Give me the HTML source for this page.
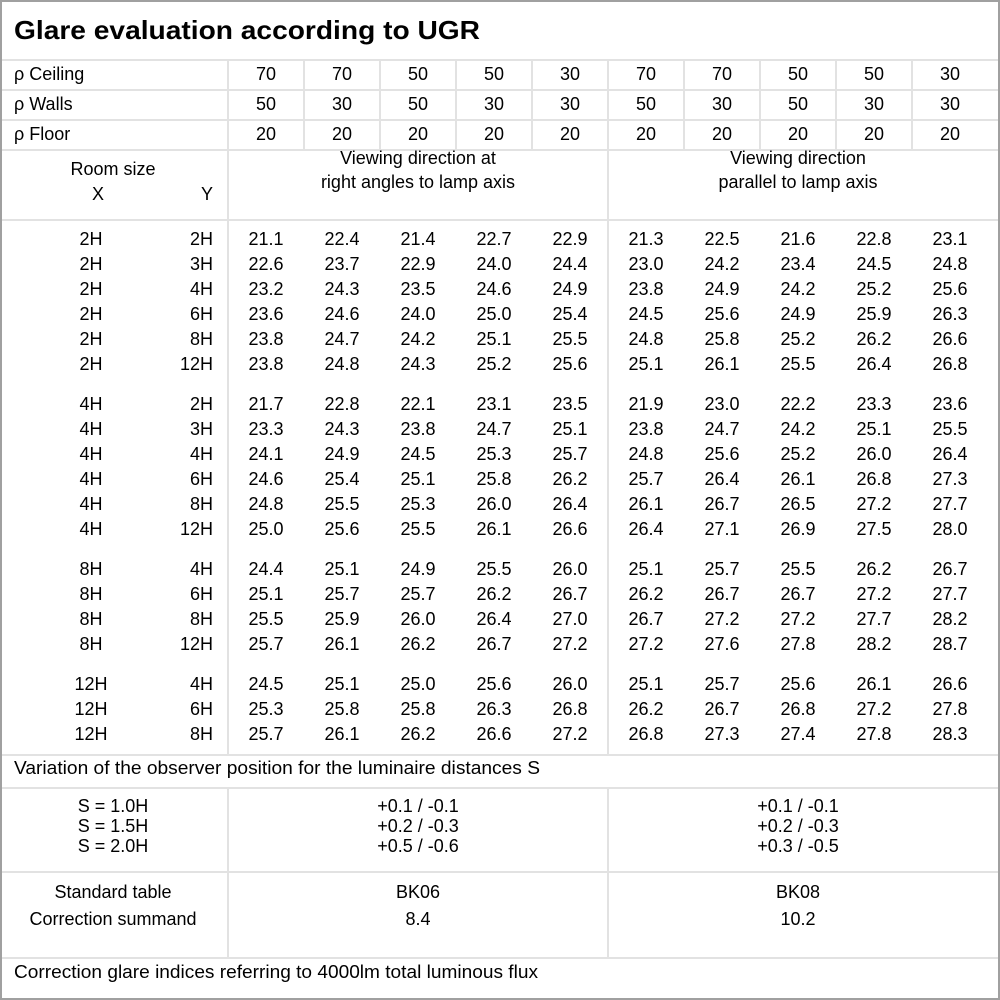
<!DOCTYPE html>
<html><head><meta charset="utf-8"><style>
html,body{margin:0;padding:0;background:#fff;}
svg{display:block;}
text{font-family:"Liberation Sans",sans-serif;font-size:18px;fill:#000;}
</style></head><body>
<svg id="s" width="1000" height="1000" xmlns="http://www.w3.org/2000/svg">
<rect x="0" y="0" width="1000" height="1000" fill="#fff"/>
</svg>
<script>
var s=document.getElementById('s'),NS='http://www.w3.org/2000/svg';
function L(x1,y1,x2,y2,c,w){var e=document.createElementNS(NS,'line');e.setAttribute('x1',x1);e.setAttribute('y1',y1);e.setAttribute('x2',x2);e.setAttribute('y2',y2);e.setAttribute('stroke',c||'#e2e2e2');e.setAttribute('stroke-width',w||2);s.appendChild(e);}
function T(x,y,t,a,extra){var e=document.createElementNS(NS,'text');e.setAttribute('x',x);e.setAttribute('y',y+6);e.setAttribute('text-anchor',a||'middle');if(extra)for(var k in extra)e.setAttribute(k,extra[k]);e.textContent=t;s.appendChild(e);return e;}
[60,90,120,150,220,755,788,872,958].forEach(function(y){L(0,y,1000,y);});
L(228,60,228,755);L(228,788,228,958);
L(608,150,608,755);L(608,788,608,958);
for(var i=1;i<10;i++){L(228+76*i,60,228+76*i,150);}
var b=document.createElementNS(NS,'rect');b.setAttribute('x',1);b.setAttribute('y',1);b.setAttribute('width',998);b.setAttribute('height',998);b.setAttribute('fill','none');b.setAttribute('stroke','#a0a0a0');b.setAttribute('stroke-width',2);s.appendChild(b);
var t=T(14,30,'Glare evaluation according to UGR','start',{'font-weight':'bold','style':'font-size:26px','textLength':'466','lengthAdjust':'spacingAndGlyphs'});
t.setAttribute('y',39);
var cx=[];for(var i=0;i<10;i++)cx.push(266+76*i);
var hdr=[['ρ Ceiling',[70,70,50,50,30,70,70,50,50,30]],['ρ Walls',[50,30,50,30,30,50,30,50,30,30]],['ρ Floor',[20,20,20,20,20,20,20,20,20,20]]];
hdr.forEach(function(h,r){var y=74+30*r;T(14,y,h[0],'start');h[1].forEach(function(v,i){T(cx[i],y,v);});});
T(113,169,'Room size');T(98,194,'X');T(207,194,'Y');
T(418,158,'Viewing direction at');T(418,182,'right angles to lamp axis');
T(798,158,'Viewing direction');T(798,182,'parallel to lamp axis');
var rows=[
['2H','2H','21.1 22.4 21.4 22.7 22.9 21.3 22.5 21.6 22.8 23.1'],
['2H','3H','22.6 23.7 22.9 24.0 24.4 23.0 24.2 23.4 24.5 24.8'],
['2H','4H','23.2 24.3 23.5 24.6 24.9 23.8 24.9 24.2 25.2 25.6'],
['2H','6H','23.6 24.6 24.0 25.0 25.4 24.5 25.6 24.9 25.9 26.3'],
['2H','8H','23.8 24.7 24.2 25.1 25.5 24.8 25.8 25.2 26.2 26.6'],
['2H','12H','23.8 24.8 24.3 25.2 25.6 25.1 26.1 25.5 26.4 26.8'],
null,
['4H','2H','21.7 22.8 22.1 23.1 23.5 21.9 23.0 22.2 23.3 23.6'],
['4H','3H','23.3 24.3 23.8 24.7 25.1 23.8 24.7 24.2 25.1 25.5'],
['4H','4H','24.1 24.9 24.5 25.3 25.7 24.8 25.6 25.2 26.0 26.4'],
['4H','6H','24.6 25.4 25.1 25.8 26.2 25.7 26.4 26.1 26.8 27.3'],
['4H','8H','24.8 25.5 25.3 26.0 26.4 26.1 26.7 26.5 27.2 27.7'],
['4H','12H','25.0 25.6 25.5 26.1 26.6 26.4 27.1 26.9 27.5 28.0'],
null,
['8H','4H','24.4 25.1 24.9 25.5 26.0 25.1 25.7 25.5 26.2 26.7'],
['8H','6H','25.1 25.7 25.7 26.2 26.7 26.2 26.7 26.7 27.2 27.7'],
['8H','8H','25.5 25.9 26.0 26.4 27.0 26.7 27.2 27.2 27.7 28.2'],
['8H','12H','25.7 26.1 26.2 26.7 27.2 27.2 27.6 27.8 28.2 28.7'],
null,
['12H','4H','24.5 25.1 25.0 25.6 26.0 25.1 25.7 25.6 26.1 26.6'],
['12H','6H','25.3 25.8 25.8 26.3 26.8 26.2 26.7 26.8 27.2 27.8'],
['12H','8H','25.7 26.1 26.2 26.6 27.2 26.8 27.3 27.4 27.8 28.3']];
var y=239;
rows.forEach(function(r){if(!r){y+=15;return;}T(91,y,r[0]);T(213,y,r[1],'end');r[2].split(' ').forEach(function(v,i){T(cx[i],y,v);});y+=25;});
T(14,768,'Variation of the observer position for the luminaire distances S','start',{'textLength':'526','lengthAdjust':'spacingAndGlyphs'});
var sl=['S = 1.0H','S = 1.5H','S = 2.0H'],a=['+0.1 / -0.1','+0.2 / -0.3','+0.5 / -0.6'],c=['+0.1 / -0.1','+0.2 / -0.3','+0.3 / -0.5'];
for(var i=0;i<3;i++){var yy=806+20*i;T(113,yy,sl[i]);T(418,yy,a[i]);T(798,yy,c[i]);}
T(113,892,'Standard table');T(113,919,'Correction summand');
T(418,892,'BK06');T(418,919,'8.4');T(798,892,'BK08');T(798,919,'10.2');
T(14,972,'Correction glare indices referring to 4000lm total luminous flux','start',{'textLength':'524','lengthAdjust':'spacingAndGlyphs'});
</script>
</body></html>
